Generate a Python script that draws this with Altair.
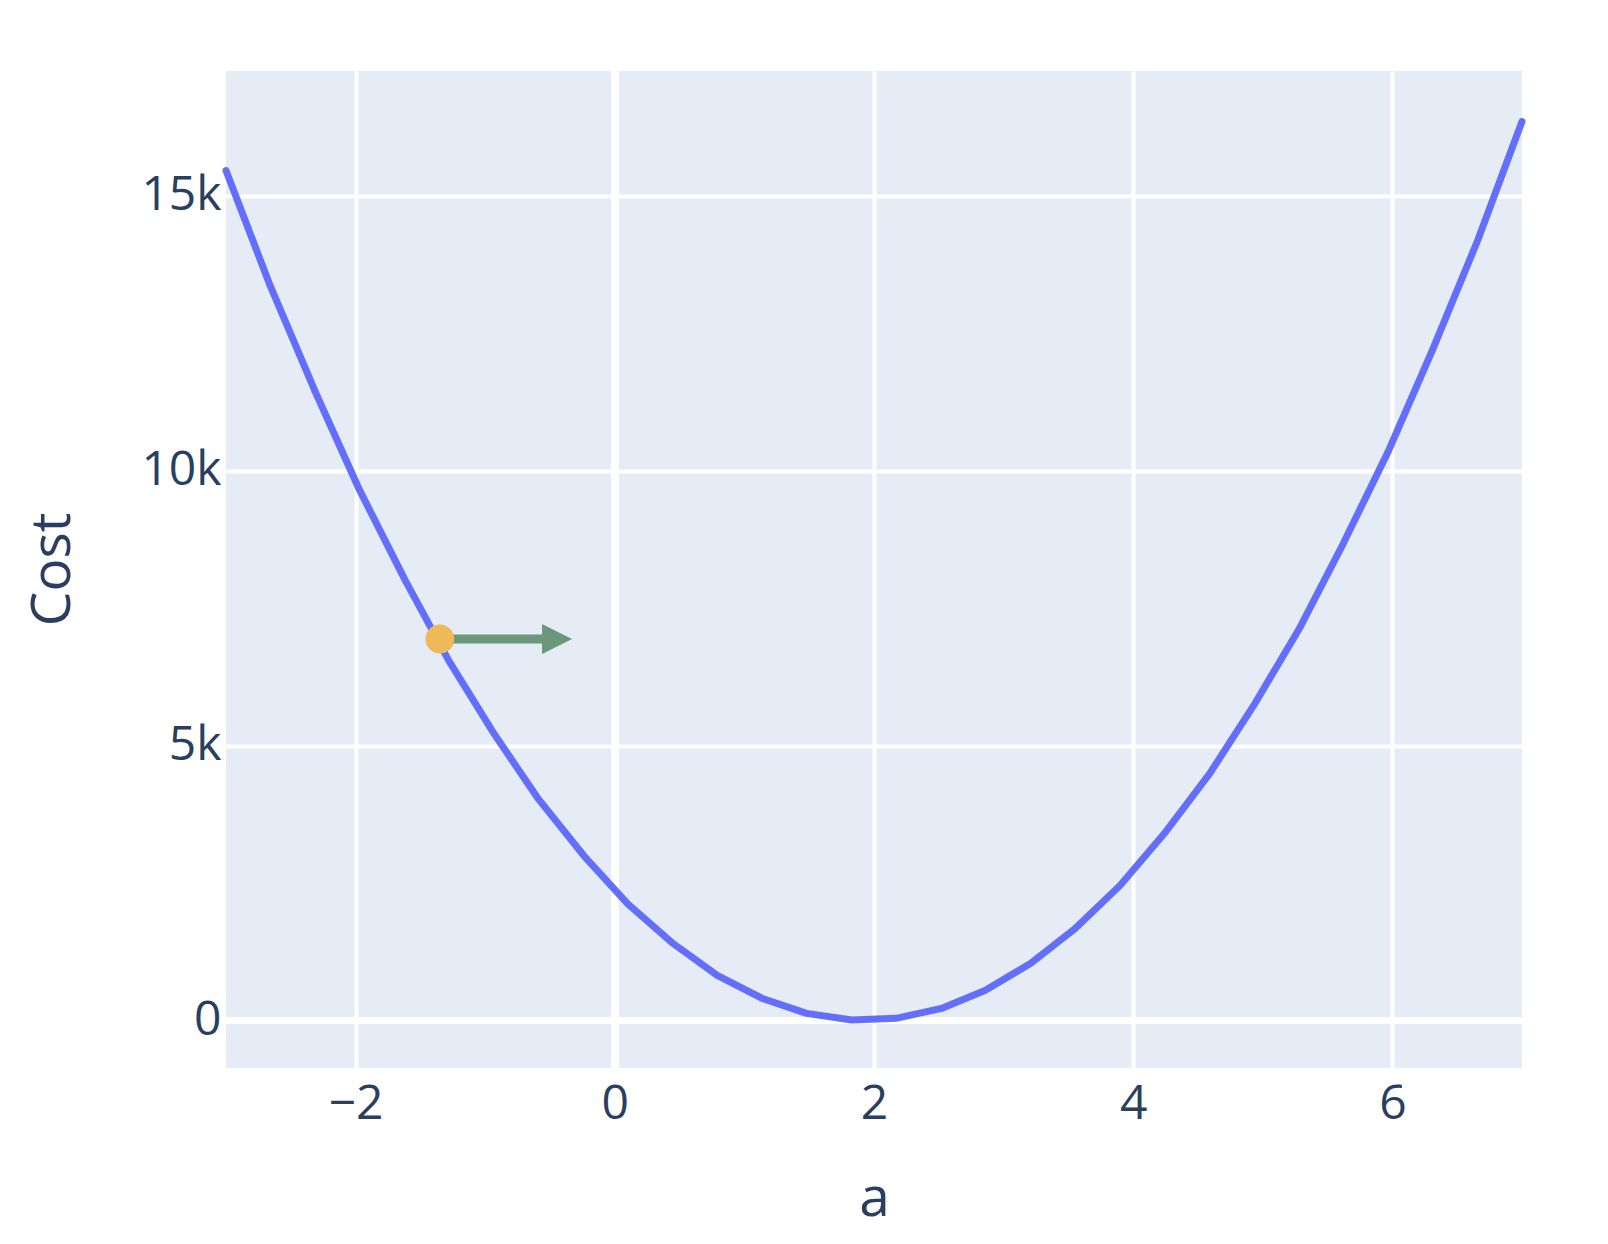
import altair as alt
import pandas as pd

# Curve
a_vals = [-3.00, -2.66, -2.31, -1.97, -1.62, -1.28, -0.93, -0.59, -0.24, 0.10,
          0.45, 0.79, 1.14, 1.48, 1.83, 2.17, 2.52, 2.86, 3.21, 3.55,
          3.90, 4.24, 4.59, 4.93, 5.28, 5.62, 5.97, 6.31, 6.66, 7.00]
cost_vals = [15460, 13370, 11430, 9650, 8020, 6540, 5210, 4030, 3000, 2120,
             1400, 820, 400, 130, 10, 40, 220, 550, 1040, 1670,
             2460, 3400, 4490, 5730, 7120, 8670, 10360, 12200, 14200, 16350]

# Current point and its arrow
point_a = [-1.35]
point_cost = [6940]
arrow_base_a = [-0.56]
arrow_tip_a = [-0.33]

x_ticks = [-2, 0, 2, 4, 6]
y_ticks = [0, 5000, 10000, 15000]

FONT = "Open Sans"
TXT = "#2a3f5f"

curve_df = pd.DataFrame({"a": a_vals, "cost": cost_vals})
pt_df = pd.DataFrame({"a": point_a, "cost": point_cost,
                      "a_base": arrow_base_a, "a_tip": arrow_tip_a})

x_scale = alt.Scale(domain=[-3, 7], nice=False, zero=False)
y_scale = alt.Scale(domain=[-864, 17270], nice=False, zero=False)

x_axis = alt.Axis(values=x_ticks, title="a", grid=True, gridColor="white", gridWidth=4,
                  domain=False, ticks=False, tickSize=0, labelPadding=12,
                  labelFont=FONT, labelFontSize=48, labelColor=TXT,
                  titleFont=FONT, titleFontSize=55, titleColor=TXT, titleFontWeight="normal",
                  titleY=147, titleBaseline="alphabetic")
y_axis = alt.Axis(values=y_ticks, labelExpr="datum.value == 0 ? '0' : format(datum.value, '~s')",
                  title="Cost", grid=True, gridColor="white",
                  gridWidth=4, domain=False, ticks=False, tickSize=0, labelPadding=5,
                  labelFont=FONT, labelFontSize=48, labelColor=TXT,
                  titleFont=FONT, titleFontSize=55, titleColor=TXT, titleFontWeight="normal",
                  titleX=-157, titleY=498, titleAngle=270, titleBaseline="alphabetic")

zero_y = alt.Chart(curve_df).mark_rule(color="white", strokeWidth=7).encode(
    y=alt.datum(0, scale=y_scale, axis=y_axis)
)
zero_x = alt.Chart(curve_df).mark_rule(color="white", strokeWidth=7).encode(
    x=alt.datum(0, scale=x_scale, axis=x_axis)
)

line = alt.Chart(curve_df).mark_line(
    color="#636efa", strokeWidth=7, strokeCap="round", strokeJoin="round"
).encode(
    x=alt.X("a:Q", scale=x_scale, axis=x_axis),
    y=alt.Y("cost:Q", scale=y_scale, axis=y_axis),
)

shaft = alt.Chart(pt_df).mark_rule(color="#6b977a", strokeWidth=9).encode(
    x=alt.X("a:Q", scale=x_scale, axis=x_axis),
    x2="a_base:Q",
    y=alt.Y("cost:Q", scale=y_scale, axis=y_axis),
)

head = alt.Chart(pt_df).mark_point(
    shape="M-2,-1L0,0L-2,1Z", size=900, filled=True, color="#6b977a", opacity=1
).encode(
    x=alt.X("a_tip:Q", scale=x_scale, axis=x_axis),
    y=alt.Y("cost:Q", scale=y_scale, axis=y_axis),
)

dot = alt.Chart(pt_df).mark_circle(size=830, color="#efb95a", opacity=1).encode(
    x=alt.X("a:Q", scale=x_scale, axis=x_axis),
    y=alt.Y("cost:Q", scale=y_scale, axis=y_axis),
)

chart = alt.layer(zero_y, zero_x, line, shaft, head, dot).properties(
    width=1296,
    height=997,
    autosize=alt.AutoSizeParams(type="none"),
    padding={"left": 218, "top": 63, "right": 70, "bottom": 170},
    background="white",
).configure_view(fill="#E5ECF6", strokeWidth=0)

chart.save("out.html", embed_options={"renderer": "svg", "actions": False})
